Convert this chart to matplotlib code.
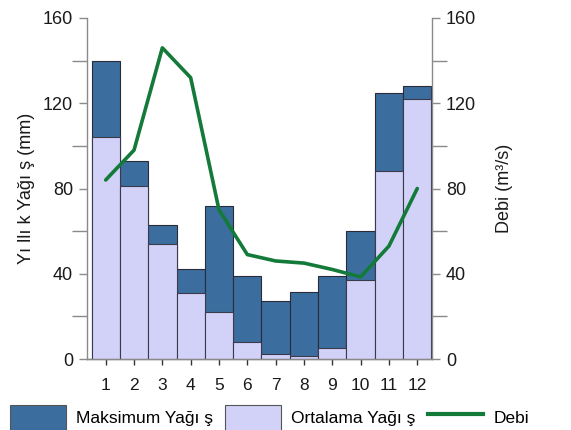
import numpy as np
import matplotlib
matplotlib.use("Agg")
import matplotlib.pyplot as plt
from matplotlib.ticker import MultipleLocator
from matplotlib.patches import Patch
from matplotlib.lines import Line2D

plt.rcParams['font.family'] = ['Liberation Sans', 'DejaVu Sans']

# MARK: data

months = np.arange(1, 13)
maksimum = [140, 93, 63, 42, 72, 39, 27, 31.5, 39, 60, 125, 128]
ortalama = [104, 81, 54, 31, 22, 8, 2.5, 1.5, 5, 37, 88, 122]
debi = [84, 98, 146, 132, 70, 49, 46, 45, 42, 38.5, 53, 80]

# MARK: styles

DARK = '#3b6e9e'
LIGHT = '#d2d2f9'
GREEN = '#137a3a'
SPINE = '#8a8a8a'
TXT = '#1a1a1a'

fig = plt.figure(figsize=(5.71, 4.30), dpi=100, facecolor='white')
ax = fig.add_axes([87/571, 71/430, 345/571, 341/430])
ax2 = ax.twinx()

ax.bar(months, maksimum, width=1.0, color=DARK, edgecolor='#2a2a3a', linewidth=0.8, zorder=2)
ax.bar(months, ortalama, width=1.0, color=LIGHT, edgecolor='#3a3a4a', linewidth=0.8, zorder=3)
ax2.plot(months, debi, color=GREEN, linewidth=2.6, solid_joinstyle='round', solid_capstyle='round')

for a in (ax, ax2):
    a.set_ylim(0, 160)
    a.set_xlim(0.34, 12.52)
    a.spines['top'].set_visible(False)
    for s in ('left', 'right', 'bottom'):
        a.spines[s].set_color(SPINE)
        a.spines[s].set_linewidth(1.0)
    a.yaxis.set_major_locator(MultipleLocator(40))
    a.yaxis.set_minor_locator(MultipleLocator(20))
    a.tick_params(axis='y', which='major', colors=SPINE, labelcolor=TXT, labelsize=13, length=6, width=1, pad=4)
    a.tick_params(axis='y', which='minor', colors=SPINE, length=11, width=1)

ax.spines['right'].set_visible(False)
ax2.spines['left'].set_visible(False)

ax.set_xticks(months)
ax.set_xticklabels([str(m) for m in months])
ax.tick_params(axis='x', colors='#333333', labelcolor=TXT, labelsize=12.5, length=4, width=1, pad=10)

ax.set_ylabel('Yı llı k Yağı ş (mm)', fontsize=13, labelpad=6, color=TXT)
ax2.set_ylabel('Debi (m³/s)', fontsize=13, labelpad=14, color=TXT)

handles = [
    Patch(facecolor=DARK, edgecolor='#555555', linewidth=0.8),
    Patch(facecolor=LIGHT, edgecolor='#555555', linewidth=0.8),
    Line2D([], [], color=GREEN, linewidth=3),
]
labels = ['Maksimum Yağı ş', 'Ortalama Yağı ş', 'Debi']
fig.legend(handles, labels, loc='upper left', bbox_to_anchor=(10/571, 1 - 405/430), ncol=3,
           frameon=False, fontsize=12.5, handlelength=3.2, handleheight=1.9,
           handletextpad=0.6, columnspacing=0.7, borderaxespad=0, borderpad=0)

fig.savefig('out.png', dpi=100, facecolor='white')
